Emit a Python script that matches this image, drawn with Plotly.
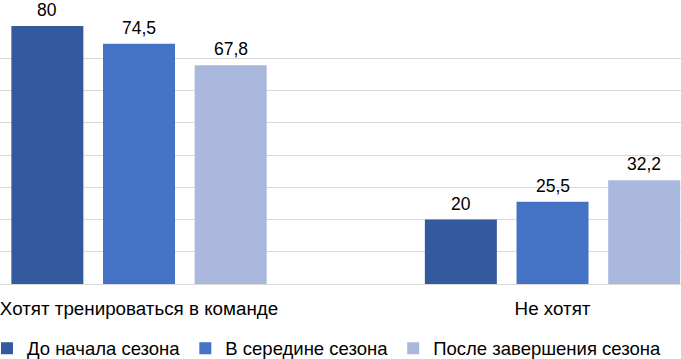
import plotly.graph_objects as go

categories = ["Хотят тренироваться в команде", "Не хотят"]
series_names = ["До начала сезона", "В середине сезона", "После завершения сезона"]
before_season = [80, 20]
mid_season = [74.5, 25.5]
after_season = [67.8, 32.2]
series_values = [before_season, mid_season, after_season]
colors = ["#335A9F", "#4472C4", "#A9B8DC"]

FONT = "Liberation Sans, Arial, sans-serif"
BARGAP = 0.335
GROUPGAP = 0.2145

fig = go.Figure()
for name, vals, col in zip(series_names, series_values, colors):
    fig.add_trace(go.Bar(
        x=categories, y=vals, name=name,
        marker=dict(color=col, line=dict(width=0)),
        hoverinfo="skip",
    ))

def fmt(v):
    return ("%g" % v).replace(".", ",")

slot = (1 - BARGAP) / len(series_values)
annotations = []
for j, vals in enumerate(series_values):
    for i, v in enumerate(vals):
        annotations.append(dict(
            x=i + (j - 1) * slot, y=v, xref="x", yref="y",
            text=fmt(v), showarrow=False, yanchor="bottom", borderpad=0,
            yshift=5, font=dict(family=FONT, size=17.5, color="#000000"),
        ))

fig.update_layout(
    width=681, height=359,
    margin=dict(l=0, r=0, t=26, b=75, pad=0, autoexpand=False),
    paper_bgcolor="white", plot_bgcolor="white",
    barmode="group", bargap=BARGAP, bargroupgap=GROUPGAP,
    font=dict(family=FONT, size=18.5, color="#000000"),
    annotations=annotations,
    showlegend=True,
    legend=dict(
        orientation="h", xref="paper", yref="paper",
        x=-0.0191, xanchor="left", y=-0.2505, yanchor="middle",
        font=dict(family=FONT, size=18.5, color="#000000"),
        itemwidth=30, traceorder="normal", bgcolor="rgba(0,0,0,0)",
    ),
    xaxis=dict(
        range=[-0.3362, 1.3107], showgrid=False, zeroline=False, automargin=False,
        showline=False, ticks="", ticklabelstandoff=11,
        tickfont=dict(family=FONT, size=18.8, color="#000000"),
        fixedrange=True,
    ),
    yaxis=dict(
        range=[0, 80], dtick=10, showgrid=True, gridcolor="#D9D9D9", gridwidth=1,
        zeroline=True, zerolinecolor="#D9D9D9", zerolinewidth=1, automargin=False,
        showticklabels=False, ticks="", fixedrange=True,
    ),
)

fig.write_html(
    "out.html",
    config={"displayModeBar": False, "staticPlot": True},
    post_script="document.body.style.margin='0';document.body.style.overflow='hidden';",
)
